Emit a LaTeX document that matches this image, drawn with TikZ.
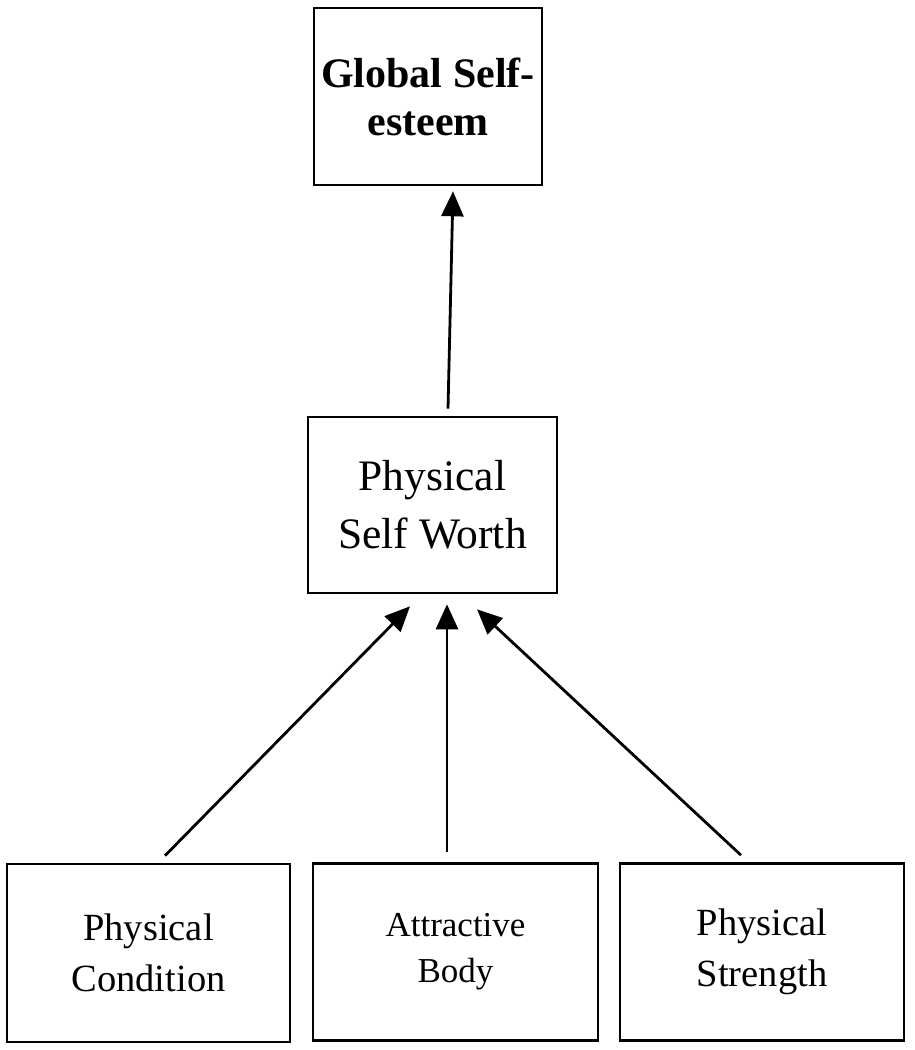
\documentclass[tikz,border=0pt]{standalone}
\usepackage{fontspec}
\setmainfont{Liberation Serif}
\usetikzlibrary{arrows.meta}
\tikzset{
  box/.style={draw=black, line width=2.6pt, fill=white, inner sep=0pt, align=center, anchor=center},
  arr/.style={line width=2.8pt, -{Triangle[length=25pt,width=22pt]}},
}
\begin{document}
\begin{tikzpicture}[x=1pt,y=-1pt]
\useasboundingbox (0,0) rectangle (914,1050);
\node[box, minimum width=228pt, minimum height=177pt, font=\bfseries\fontsize{42pt}{48pt}\selectfont] (gse) at (428,96.5) {\raisebox{-4pt}{Global Self-}\\\raisebox{-4pt}{esteem}};
\node[box, minimum width=249pt, minimum height=176pt, font=\fontsize{43.5pt}{58pt}\selectfont] (psw) at (432.5,505) {Physical\\Self Worth};
\node[box, minimum width=283pt, minimum height=178pt, font=\fontsize{38.5pt}{51pt}\selectfont] (pc) at (148.5,953) {Physical\\Condition};
\node[box, minimum width=285pt, minimum height=177pt, font=\fontsize{35pt}{46pt}\selectfont] (ab) at (455.5,952) {Attractive\\Body};
\node[box, minimum width=284pt, minimum height=177pt, font=\fontsize{38.5pt}{51pt}\selectfont] (ps) at (762,952) {Physical\\Strength};
\draw[arr] ([xshift=15.5pt,yshift=7pt]psw.north) -- ([xshift=25pt,yshift=-5pt]gse.south);
\draw[arr] ([xshift=16.5pt,yshift=7pt]pc.north) -- ([xshift=-22.5pt,yshift=-12pt]psw.south);
\draw[arr] ([xshift=-8.5pt,yshift=10pt]ab.north) -- ([xshift=14.5pt,yshift=-10pt]psw.south);
\draw[arr] ([xshift=-21pt,yshift=7pt]ps.north) -- ([xshift=44.5pt,yshift=-15pt]psw.south);
\end{tikzpicture}
\end{document}
